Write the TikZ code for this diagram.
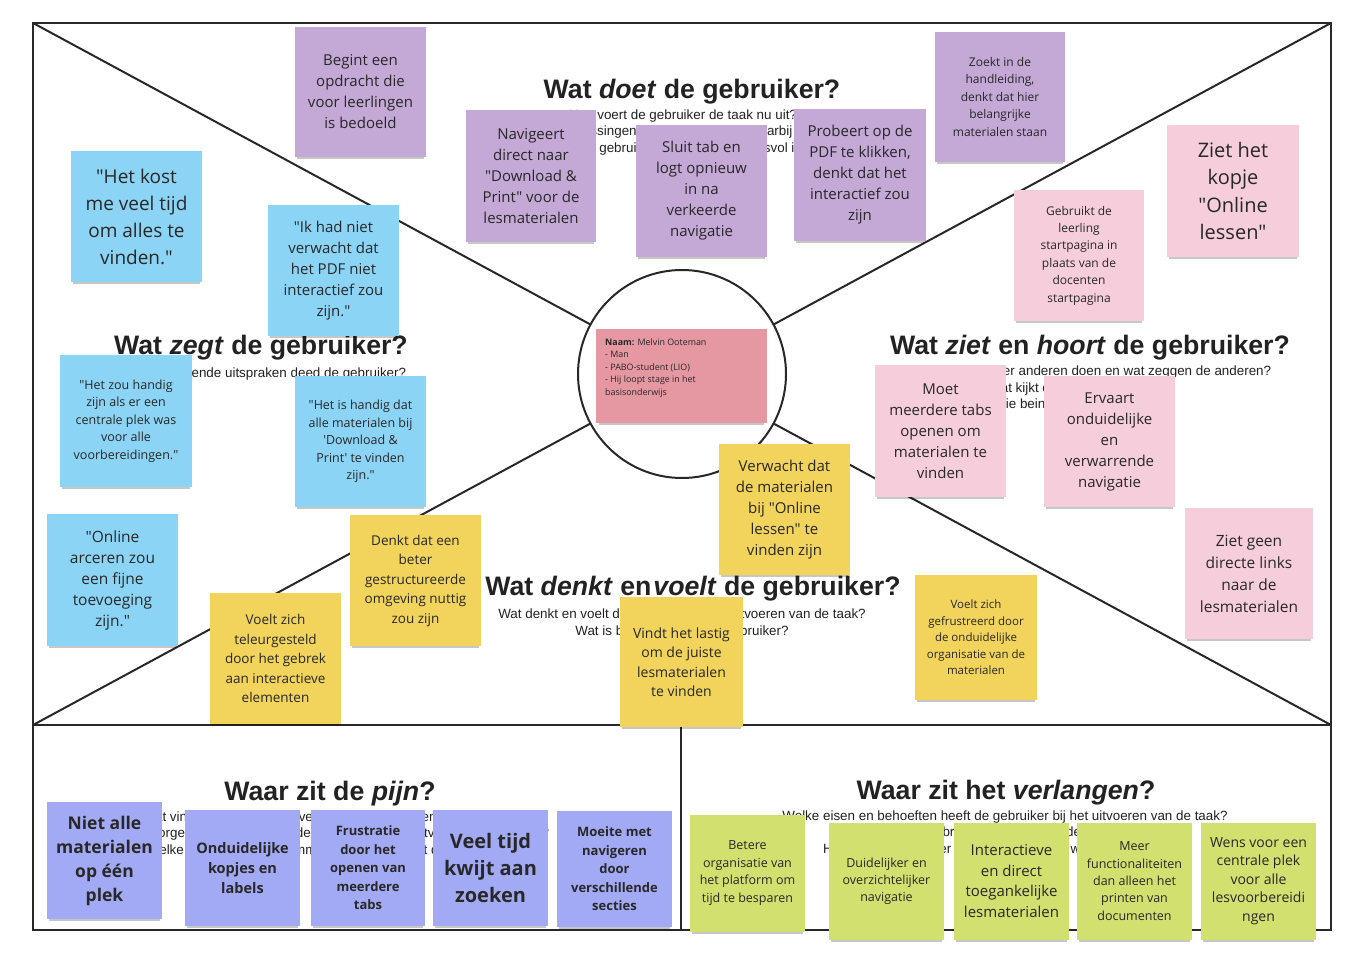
\documentclass[tikz,border=0pt]{standalone}
\usepackage{fontspec}
\setmainfont{Open Sans}[Ligatures=TeXOff]
\newfontfamily\hv{Liberation Sans}
\usetikzlibrary{shadows}
\definecolor{frame}{RGB}{40,40,40}
\definecolor{ink}{RGB}{34,34,34}
\definecolor{ntext}{RGB}{40,40,40}
\definecolor{purp}{RGB}{196,168,214}
\definecolor{blu}{RGB}{140,212,245}
\definecolor{pnk}{RGB}{246,205,219}
\definecolor{yel}{RGB}{242,212,92}
\definecolor{redn}{RGB}{229,152,162}
\definecolor{peri}{RGB}{163,170,245}
\definecolor{grn}{RGB}{210,224,112}
\newcommand\nfs[2]{\fontsize{#1}{#2}\selectfont}
\newcommand\dq{\symbol{34}}
\newcommand\sq{\symbol{39}}
\tikzset{
  note/.style={rectangle, inner sep=0pt, align=center, text=ntext,
    drop shadow={shadow xshift=0pt, shadow yshift=-4pt, shadow scale=0.97, opacity=0.22, fill=black}},
  nsz/.style 2 args={minimum width=#1pt, minimum height=#2pt},
  ttl/.style={inner sep=0pt, text=ink, font=\hv\bfseries\nfs{26.7}{30}},
  sub/.style={inner sep=0pt, text=ink, align=center, font=\hv\nfs{13.4}{16.5}},
  frm/.style={draw=frame, line width=2pt},
}
\begin{document}
\begin{tikzpicture}[x=1pt,y=-1pt]
\useasboundingbox[fill=white] (0,0) rectangle (1360,960);
% frame
\coordinate (TL) at (33,23);
\coordinate (TR) at (1331,23);
\coordinate (ML) at (33,725);
\coordinate (MR) at (1331,725);
\coordinate (BL) at (33,930);
\coordinate (BR) at (1331,930);
\coordinate (MB) at (681,725);
\coordinate (MBB) at (681,930);
\draw[frm] (TL) rectangle (BR);
\draw[frm] (ML) -- (MR);
\draw[frm] (MB) -- (MBB);
\draw[frm] (TL) -- (MR);
\draw[frm] (ML) -- (TR);
\node[circle, draw=frame, line width=2pt, fill=white, minimum size=208pt, inner sep=0pt] (circ) at (682,374) {};

% titles and subtitles
\node[ttl] (t1) at (692,92) {Wat \textit{doet} de gebruiker?};
\node[sub] (s1) at (683,132.5) {Hoe voert de gebruiker de taak nu uit?\\Welke beslissingen moet de gebruiker daarbij maken?\\Wanneer vindt de gebruiker dat de taak succesvol is uitgevoerd?};
\node[ttl] (t2) at (261,348) {Wat \textit{zegt} de gebruiker?};
\node[sub] (s2) at (261,374.5) {Welke opvallende uitspraken deed de gebruiker?};
\node[ttl] (t3) at (1090,348) {Wat \textit{ziet} en \textit{hoort} de gebruiker?};
\node[sub] (s3) at (1080,389) {Wat ziet de gebruiker anderen doen en wat zeggen de anderen?\\Wat kijkt of leest de gebruiker?\\Wie beinvloedt de gebruiker?};
\node[ttl] (t4) at (693,589) {Wat \textit{denkt} en\hspace{2pt}\textit{voelt} de gebruiker?};
\node[sub] (s4) at (682,623.5) {Wat denkt en voelt de gebruiker bij het uitvoeren van de taak?\\Wat is belangrijk voor de gebruiker?};
\node[ttl] (t5) at (330,794) {Waar zit de \textit{pijn}?};
\node[sub] (s5) at (330,834.5) {Wat vindt de gebruiker vervelend bij het uitvoeren van de taak?\\Welke zorgen of angsten heeft de gebruiker bij het uitvoeren van de taak?\\Welke frustraties en belemmeringen ondervindt de gebruiker?};
\node[ttl] (t6) at (1006,793) {Waar zit het \textit{verlangen}?};
\node[sub] (s6) at (1005,833.5) {Welke eisen en behoeften heeft de gebruiker bij het uitvoeren van de taak?\\Waar hoopt de gebruiker op of droomt de gebruiker van?\\Hoe zou de gebruiker ondersteund willen worden bij de taak?};

% purple notes
\node[note, fill=purp, nsz={131}{130}, font=\nfs{15}{21}] (p1) at (360.5,92) {Begint een\\opdracht die\\voor leerlingen\\is bedoeld};
\node[note, fill=purp, nsz={130}{132}, font=\nfs{15}{21}] (p2) at (531,176) {Navigeert\\direct naar\\\dq Download \&\\Print\dq{} voor de\\lesmaterialen};
\node[note, fill=purp, nsz={131}{132}, font=\nfs{15}{21}] (p3) at (701.5,191) {Sluit tab en\\logt opnieuw\\in na\\verkeerde\\navigatie};
\node[note, fill=purp, nsz={132}{132}, font=\nfs{15}{21}] (p4) at (860,175) {Probeert op de\\PDF te klikken,\\denkt dat het\\interactief zou\\zijn};
\node[note, fill=purp, nsz={130}{130}, font=\nfs{12}{17.5}] (p5) at (1000,97) {Zoekt in de\\handleiding,\\denkt dat hier\\belangrijke\\materialen staan};

% blue notes
\node[note, fill=blu, nsz={131}{131}, font=\nfs{19}{27}] (b1) at (136.5,216.5) {\dq Het kost\\me veel tijd\\om alles te\\vinden.\dq};
\node[note, fill=blu, nsz={131}{131}, font=\nfs{15}{21}] (b2) at (333.5,270.5) {\dq Ik had niet\\verwacht dat\\het PDF niet\\interactief zou\\zijn.\dq};
\node[note, fill=blu, nsz={132}{132}, font=\nfs{12.5}{17.5}] (b3) at (126,421) {\dq Het zou handig\\zijn als er een\\centrale plek was\\voor alle\\voorbereidingen.\dq};
\node[note, fill=blu, nsz={131}{131}, font=\nfs{12.5}{17.5}] (b4) at (360.5,441.5) {\dq Het is handig dat\\alle materialen bij\\\sq Download \&\\Print\sq{} te vinden\\zijn.\dq};
\node[note, fill=blu, nsz={131}{132}, font=\nfs{15.5}{21}] (b5) at (112.5,580) {\dq Online\\arceren zou\\een fijne\\toevoeging\\zijn.\dq};

% yellow notes
\node[note, fill=yel, nsz={131}{131}, font=\nfs{15}{21}] (y1) at (784.5,509.5) {Verwacht dat\\de materialen\\bij \dq Online\\lessen\dq{} te\\vinden zijn};
\node[note, fill=yel, nsz={131}{131}, font=\nfs{13.5}{19.5}] (y2) at (415.5,580.5) {Denkt dat een\\beter\\gestructureerde\\omgeving nuttig\\zou zijn};
\node[note, fill=yel, nsz={131}{131}, font=\nfs{13.5}{19.5}] (y3) at (275.5,658.5) {Voelt zich\\teleurgesteld\\door het gebrek\\aan interactieve\\elementen};
\node[note, fill=yel, nsz={123}{130}, font=\nfs{14}{19.5}] (y4) at (681.5,662) {Vindt het lastig\\om de juiste\\lesmaterialen\\te vinden};
\node[note, fill=yel, nsz={122}{125}, font=\nfs{11.5}{16.5}] (y5) at (976,637.5) {Voelt zich\\gefrustreerd door\\de onduidelijke\\organisatie van de\\materialen};

% pink notes
\node[note, fill=pnk, nsz={130}{131}, font=\nfs{12}{17.4}] (k1) at (1079,255.5) {Gebruikt de\\leerling\\startpagina in\\plaats van de\\docenten\\startpagina};
\node[note, fill=pnk, nsz={132}{132}, font=\nfs{20}{27.5}] (k2) at (1233,191) {Ziet het\\kopje\\\dq Online\\lessen\dq};
\node[note, fill=pnk, nsz={131}{132}, font=\nfs{15}{21}] (k3) at (940.5,431) {Moet\\meerdere tabs\\openen om\\materialen te\\vinden};
\node[note, fill=pnk, nsz={131}{131}, font=\nfs{15}{21}] (k4) at (1109.5,441.5) {Ervaart\\onduidelijke\\en\\verwarrende\\navigatie};
\node[note, fill=pnk, nsz={128}{131}, font=\nfs{15.5}{22}] (k5) at (1249,573.5) {Ziet geen\\directe links\\naar de\\lesmaterialen};

% center persona note
\node[note, fill=redn, nsz={171}{94}] (persona) at (681.5,376) {};
\node[anchor=north west, inner sep=0pt, align=left, text=ntext, font=\nfs{8.9}{12.5}] (personatext) at (605,338.5) {\textbf{Naam:} Melvin Ooteman\\- Man\\- PABO-student (LIO)\\- Hij loopt stage in het\\basisonderwijs};

% periwinkle notes
\node[note, fill=peri, nsz={115}{117}, font=\bfseries\nfs{17.5}{24}] (v1) at (104.5,860.5) {Niet alle\\materialen\\op één\\plek};
\node[note, fill=peri, nsz={115}{116}, font=\bfseries\nfs{14.5}{20}] (v2) at (242.5,868) {Onduidelijke\\kopjes en\\labels};
\node[note, fill=peri, nsz={114}{116}, font=\bfseries\nfs{13}{18.5}] (v3) at (368,868) {Frustratie\\door het\\openen van\\meerdere\\tabs};
\node[note, fill=peri, nsz={115}{116}, font=\bfseries\nfs{20}{27}] (v4) at (490.5,868) {Veel tijd\\kwijt aan\\zoeken};
\node[note, fill=peri, nsz={115}{116}, font=\bfseries\nfs{13}{18.5}] (v5) at (614.5,869) {Moeite met\\navigeren\\door\\verschillende\\secties};

% green notes
\node[note, fill=grn, nsz={115}{117}, font=\nfs{12.5}{17.5}] (g1) at (747.5,873) {Betere\\organisatie van\\het platform om\\tijd te besparen};
\node[note, fill=grn, nsz={115}{117}, font=\nfs{12.5}{17}] (g2) at (886.5,881) {Duidelijker en\\overzichtelijker\\navigatie};
\node[note, fill=grn, nsz={115}{117}, font=\nfs{15}{20.5}] (g3) at (1011.5,881) {Interactieve\\en direct\\toegankelijke\\lesmaterialen};
\node[note, fill=grn, nsz={115}{117}, font=\nfs{12.5}{17.3}] (g4) at (1134.5,881) {Meer\\functionaliteiten\\dan alleen het\\printen van\\documenten};
\node[note, fill=grn, nsz={115}{117}, font=\nfs{14}{18.5}] (g5) at (1258.5,881) {Wens voor een\\centrale plek\\voor alle\\lesvoorbereidi\\ngen};
\end{tikzpicture}
\end{document}
